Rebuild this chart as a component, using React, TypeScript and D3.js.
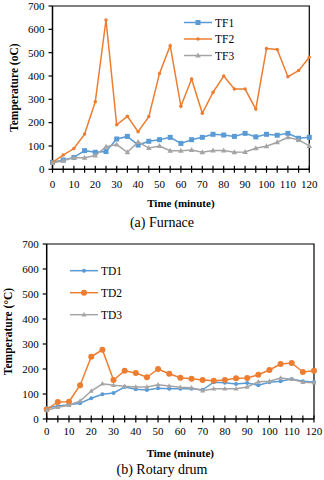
import React from "react";
import * as d3 from "d3";

const times = [0, 5, 10, 15, 20, 25, 30, 35, 40, 45, 50, 55, 60, 65, 70, 75, 80, 85, 90, 95, 100, 105, 110, 115, 120];

const tf1 = [30, 40, 51, 80, 73, 76, 130, 141, 104, 120, 127, 137, 111, 127, 137, 150, 147, 141, 154, 139, 150, 146, 154, 133, 137];
const tf2 = [30, 61, 89, 151, 290, 640, 191, 227, 161, 226, 411, 530, 270, 387, 240, 330, 400, 344, 344, 258, 518, 514, 397, 423, 480];
const tf3 = [27, 37, 50, 50, 59, 97, 106, 73, 117, 91, 100, 80, 80, 83, 73, 81, 81, 73, 74, 90, 99, 116, 137, 126, 100];

const td1 = [44, 52, 57, 63, 83, 99, 104, 128, 119, 116, 123, 121, 121, 121, 117, 147, 145, 140, 144, 135, 147, 151, 160, 151, 148];
const td2 = [38, 68, 69, 135, 249, 277, 156, 193, 184, 167, 200, 181, 165, 161, 156, 153, 156, 163, 164, 177, 196, 220, 224, 188, 193];
const td3 = [35, 47, 55, 72, 112, 141, 135, 131, 128, 128, 137, 132, 127, 125, 113, 121, 121, 121, 128, 149, 151, 164, 159, 147, 145];

const yTicks = [0, 100, 200, 300, 400, 500, 600, 700];
const xLabelTicks = [0, 10, 20, 30, 40, 50, 60, 70, 80, 90, 100, 110, 120];

const BLUE = "#5B9BD5";
const ORANGE = "#ED7D31";
const GRAY = "#A5A5A5";
const FONT = "'Liberation Serif', 'Times New Roman', serif";

type Series = { name: string; values: number[]; color: string; marker: string; size: number };

function Marker({ x, y, type, color, size }: { x: number; y: number; type: string; color: string; size: number }) {
  if (type === "square") return <rect x={x - size / 2} y={y - size / 2} width={size} height={size} fill={color} />;
  if (type === "triangle") {
    const s = size;
    return <path d={`M${x},${y - s * 0.6}L${x + s * 0.55},${y + s * 0.4}L${x - s * 0.55},${y + s * 0.4}Z`} fill={color} />;
  }
  return <circle cx={x} cy={y} r={size / 2} fill={color} />;
}

function Chart({
  top, left, right, bottom, series, legendX, legendY, legendGap, yTitle, yTitleX, caption, xLabelY, xTitleY, captionY,
}: {
  top: number; left: number; right: number; bottom: number; series: Series[]; legendX: number; legendY: number; legendGap: number;
  yTitle: string; yTitleX: number; caption: string; xLabelY: number; xTitleY: number; captionY: number;
}) {
  const x = d3.scaleLinear().domain([0, 120]).range([left, right]);
  const y = d3.scaleLinear().domain([0, 700]).range([bottom, top]);
  const line = d3.line<number>().x((_, i) => x(times[i])).y((d) => y(d));
  return (
    <g>
      <path d={`M${left},${top}H${right}V${bottom}`} fill="none" stroke="#000" strokeWidth={1.2} />
      <line x1={left} x2={left} y1={top} y2={bottom} stroke="#000" strokeWidth={1.5} />
      <line x1={left} x2={right} y1={bottom} y2={bottom} stroke="#000" strokeWidth={1.5} />
      {yTicks.map((t) => (
        <g key={"y" + t}>
          <line x1={left - 4} x2={left} y1={y(t)} y2={y(t)} stroke="#000" strokeWidth={1.2} />
          <text x={left - 8} y={y(t)} dy="0.35em" textAnchor="end" fontSize={11} fontFamily={FONT} fill="#000">{t}</text>
        </g>
      ))}
      {times.map((t) => (
        <line key={"xt" + t} x1={x(t)} x2={x(t)} y1={bottom - 3.5} y2={bottom + 3.5} stroke="#000" strokeWidth={1.2} />
      ))}
      {xLabelTicks.map((t) => (
        <text key={"xl" + t} x={x(t)} y={xLabelY} textAnchor="middle" fontSize={11} fontFamily={FONT} fill="#000">{t}</text>
      ))}
      <text x={(left + right) / 2} y={xTitleY} textAnchor="middle" fontSize={11} fontWeight="bold" fontFamily={FONT} fill="#000">Time (minute)</text>
      <text transform={`translate(${yTitleX},${(top + bottom) / 2}) rotate(-90)`} textAnchor="middle" dy="0.35em" fontSize={11.5} fontWeight="bold" fontFamily={FONT} fill="#000">{yTitle}</text>
      <text x={162} y={captionY} textAnchor="middle" fontSize={14} fontFamily={FONT} fill="#000">{caption}</text>
      {series.map((s) => (
        <g key={s.name}>
          <path d={line(s.values) || ""} fill="none" stroke={s.color} strokeWidth={1.5} />
          {s.values.map((v, i) => (
            <Marker key={i} x={x(times[i])} y={y(v)} type={s.marker} color={s.color} size={s.size} />
          ))}
        </g>
      ))}
      {series.map((s, i) => {
        const ly = legendY + i * legendGap;
        return (
          <g key={"lg" + s.name}>
            <line x1={legendX} x2={legendX + 28} y1={ly} y2={ly} stroke={s.color} strokeWidth={1.5} />
            <Marker x={legendX + 14} y={ly} type={s.marker} color={s.color} size={s.size} />
            <text x={legendX + 31} y={ly} dy="0.35em" fontSize={11.5} fontFamily={FONT} fill="#000">{s.name}</text>
          </g>
        );
      })}
    </g>
  );
}

export default function App() {
  const furnace: Series[] = [
    { name: "TF1", values: tf1, color: BLUE, marker: "square", size: 5 },
    { name: "TF2", values: tf2, color: ORANGE, marker: "circle", size: 3.5 },
    { name: "TF3", values: tf3, color: GRAY, marker: "triangle", size: 5 },
  ];
  const drum: Series[] = [
    { name: "TD1", values: td1, color: BLUE, marker: "circle", size: 4 },
    { name: "TD2", values: td2, color: ORANGE, marker: "circle", size: 6 },
    { name: "TD3", values: td3, color: GRAY, marker: "triangle", size: 4.5 },
  ];
  return (
    <svg width={324} height={480} style={{ position: "absolute", left: 0, top: 0, background: "#fff" }}>
      <rect width={324} height={480} fill="#fff" />
      <Chart top={6} left={52.5} right={309.3} bottom={169.3} series={furnace} legendX={184} legendY={22.5} legendGap={16.5}
        yTitle="Temperature (oC)" yTitleX={14} caption="(a) Furnace" xLabelY={188} xTitleY={207} captionY={227} />
      <Chart top={244} left={46.7} right={314} bottom={419} series={drum} legendX={70} legendY={270.7} legendGap={22}
        yTitle="Temperature (°C)" yTitleX={8} caption="(b) Rotary drum" xLabelY={434.5} xTitleY={457} captionY={474} />
    </svg>
  );
}
